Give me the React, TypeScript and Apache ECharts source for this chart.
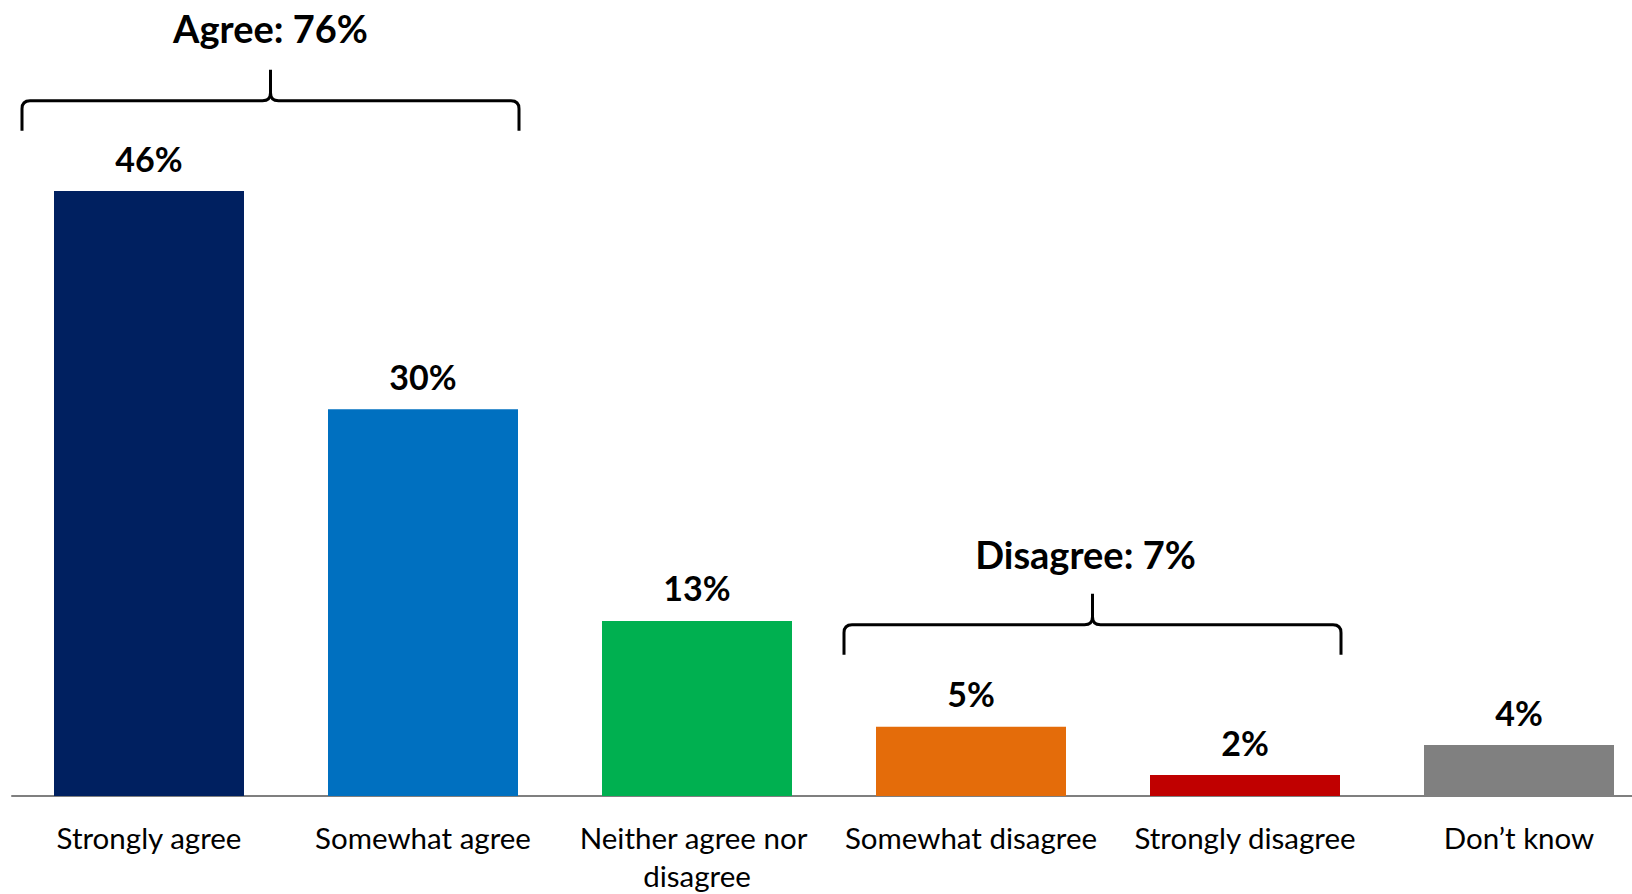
import React, { useEffect, useRef } from "react";
import * as echarts from "echarts";

const categories = [
  "Strongly agree",
  "Somewhat agree",
  "Neither agree nor disagree",
  "Somewhat disagree",
  "Strongly disagree",
  "Don’t know",
];
const values = [46.3, 29.6, 13.4, 5.3, 1.6, 3.9];
const colors = ["#002060", "#0070C0", "#00B050", "#E46C0A", "#C00000", "#808080"];

// Group annotations: first/last category index, text, value-axis level of the bracket line
const groupStart = [0, 3];
const groupEnd = [1, 4];
const groupLabels = ["Agree: 76%", "Disagree: 7%"];
const groupLevels = [53.2, 13.1];

const FONT = "Lato, 'Noto Sans', sans-serif";
const BAR_WIDTH = 190;
const TEXT_DX = [0, -7];
const TEXT_DY = [-73, -71];

const Bracket = echarts.graphic.extendShape({
  shape: { x1: 0, x2: 0, xm: 0, yPeak: 0, yLine: 0, yBottom: 0, r: 8 },
  buildPath(ctx: any, s: any) {
    const r = s.r;
    ctx.moveTo(s.x1, s.yBottom);
    ctx.lineTo(s.x1, s.yLine + r);
    ctx.quadraticCurveTo(s.x1, s.yLine, s.x1 + r, s.yLine);
    ctx.lineTo(s.xm - r, s.yLine);
    ctx.quadraticCurveTo(s.xm, s.yLine, s.xm, s.yLine - r);
    ctx.lineTo(s.xm, s.yPeak);
    ctx.moveTo(s.xm, s.yLine - r);
    ctx.quadraticCurveTo(s.xm, s.yLine, s.xm + r, s.yLine);
    ctx.lineTo(s.x2 - r, s.yLine);
    ctx.quadraticCurveTo(s.x2, s.yLine, s.x2, s.yLine + r);
    ctx.lineTo(s.x2, s.yBottom);
  },
});
echarts.graphic.registerShape("bracket", Bracket);

export default function App() {
  const ref = useRef<HTMLDivElement>(null);

  useEffect(() => {
    if (!ref.current) return;
    const chart = echarts.init(ref.current, null, { renderer: "svg" });
    const option: any = {
      animation: false,
      grid: { left: 12, top: 12, width: 1644, height: 794 },
      xAxis: {
        type: "category",
        data: categories,
        axisLine: { show: true, lineStyle: { color: "#7f7f7f", width: 2 } },
        axisTick: { show: false },
        axisLabel: {
          interval: 0,
          fontFamily: FONT,
          fontSize: 29.5,
          color: "#000",
          lineHeight: 38,
          margin: 22,
          width: 262,
          overflow: "break",
        },
      },
      yAxis: {
        type: "value",
        min: 0,
        max: 60,
        show: false,
        splitLine: { show: false },
      },
      series: [
        {
          type: "bar",
          barWidth: BAR_WIDTH,
          data: values.map((v, i) => ({ value: v, itemStyle: { color: colors[i] } })),
          label: {
            show: true,
            position: "top",
            distance: 16,
            fontFamily: FONT,
            fontWeight: "bold",
            fontSize: 34,
            lineHeight: 34,
            color: "#000",
            formatter: (p: any) => Math.round(p.value) + "%",
          },
        },
      ],
    };
    chart.setOption(option);

    const graphics: any[] = [];
    groupStart.forEach((s, g) => {
      const e = groupEnd[g];
      const [cs, yLine] = chart.convertToPixel({ gridIndex: 0 }, [s, groupLevels[g]]);
      const [ce] = chart.convertToPixel({ gridIndex: 0 }, [e, groupLevels[g]]);
      const x1 = cs - BAR_WIDTH / 2 - 32;
      const x2 = ce + BAR_WIDTH / 2 + 1;
      const xm = (x1 + x2) / 2;
      graphics.push({
        type: "bracket",
        shape: { x1, x2, xm, yPeak: yLine - 31, yLine, yBottom: yLine + 30, r: 8 },
        style: { stroke: "#000", lineWidth: 3, fill: "none" },
      });
      graphics.push({
        type: "text",
        x: xm + TEXT_DX[g],
        y: yLine + TEXT_DY[g],
        style: {
          text: groupLabels[g],
          fontFamily: FONT,
          fontWeight: "bold",
          fontSize: 38,
          fill: "#000",
          align: "center",
          verticalAlign: "middle",
        },
      });
    });
    chart.setOption({ graphic: graphics });

    return () => chart.dispose();
  }, []);

  return (
    <div
      style={{
        position: "absolute",
        left: 0,
        top: 0,
        width: 1632,
        height: 894,
        overflow: "hidden",
        background: "#fff",
      }}
    >
      <div ref={ref} style={{ width: 1680, height: 894 }} />
    </div>
  );
}
